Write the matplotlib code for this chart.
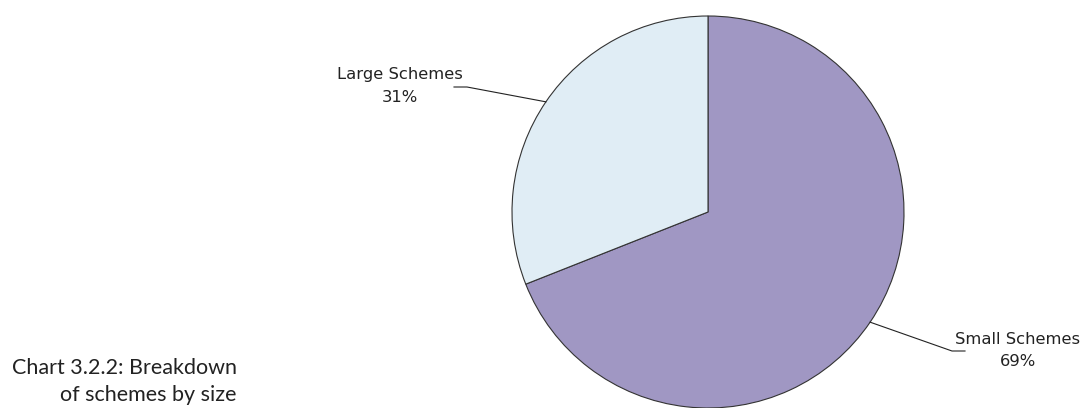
import numpy as np
import matplotlib
matplotlib.use("Agg")
import matplotlib.pyplot as plt

labels = ["Small Schemes", "Large Schemes"]
shares = [69, 31]
colors = ["#A097C3", "#E0EDF5"]

W, H = 1086, 408
fig = plt.figure(figsize=(W / 100, H / 100), dpi=100)
ax = fig.add_axes([0, 0, 1, 1])

cx, cy, r = 708, H - 212, 196
wedges, _ = ax.pie(shares, colors=colors, startangle=90, counterclock=False,
                   center=(cx, cy), radius=r, frame=True,
                   wedgeprops=dict(edgecolor="#333333", linewidth=0.8))
ax.set_xlim(0, W)
ax.set_ylim(0, H)
ax.set_aspect("equal")
ax.axis("off")

# leader lines: edge of wedge -> elbow -> short horizontal, label beyond
elbows = {"Small Schemes": (952, H - 351, 965, 1018),
          "Large Schemes": (467, H - 87, 454, 400)}
for w, lab, val in zip(wedges, labels, shares):
    mid = np.deg2rad((w.theta1 + w.theta2) / 2)
    px, py = cx + r * np.cos(mid), cy + r * np.sin(mid)
    ex, ey, hx, tx = elbows[lab]
    ax.plot([px, ex, hx], [py, ey, ey], color="#222222", lw=0.8)
    ax.text(tx, ey + 12, lab, ha="center", va="center", fontsize=11.8,
            family="DejaVu Sans", color="#222222")
    ax.text(tx, ey - 11, f"{val}%", ha="center", va="center", fontsize=11.8,
            family="DejaVu Sans", color="#222222")

fig.text(237 / W, 1 - 368 / H, "Chart 3.2.2: Breakdown", ha="right", va="center",
         fontsize=15.5, family="Lato", color="#222222")
fig.text(237 / W, 1 - 395 / H, "of schemes by size", ha="right", va="center",
         fontsize=15.5, family="Lato", color="#222222")

fig.savefig("out.png", dpi=100)
